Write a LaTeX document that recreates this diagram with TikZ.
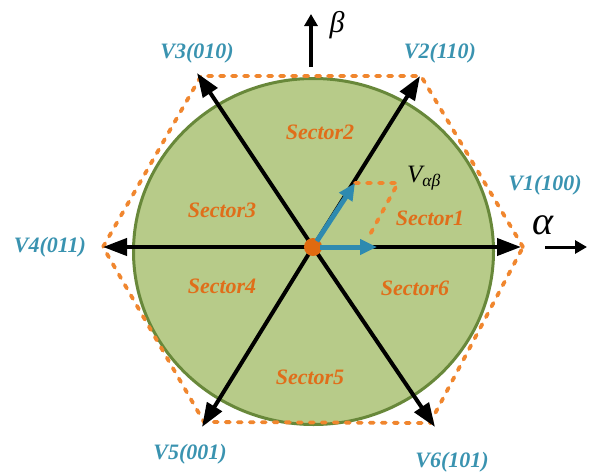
\documentclass[tikz,border=0pt]{standalone}
\usepackage{fontspec}
\setmainfont{Liberation Serif}
\usepackage{tikz}
\usetikzlibrary{arrows.meta, positioning, calc}
\definecolor{mygreen}{RGB}{183,203,137}
\definecolor{mydkgreen}{RGB}{104,136,58}
\definecolor{myorange}{RGB}{240,134,46}
\definecolor{mysector}{RGB}{224,110,26}
\definecolor{mylabel}{RGB}{58,147,176}
\definecolor{myblue}{RGB}{46,138,176}
\definecolor{mydot}{RGB}{224,106,16}
\tikzset{
  vecarrow/.style={-{Triangle[length=24pt,width=17pt]}, line width=4pt, color=black},
  axisarrow/.style={-{Triangle[length=12pt,width=13pt]}, line width=4pt, color=black},
  bluearrow/.style={-{Triangle[length=17pt,width=15pt]}, line width=5pt, color=myblue},
  hexline/.style={dash pattern=on 4pt off 8pt, line cap=round, line width=3.8pt, color=myorange},
  vlabel/.style={font=\fontsize{22}{24}\selectfont\bfseries\itshape, text=mylabel, inner sep=0pt},
  sectorlabel/.style={font=\fontsize{22}{24}\selectfont\bfseries\itshape, text=mysector, inner sep=0pt}
}
\begin{document}
\begin{tikzpicture}[x=1pt, y=-1pt]
  \useasboundingbox (0,0) rectangle (591,474);
  % Center and hexagon corners
  \coordinate (O) at (313,247);
  \coordinate (h1) at (523,247);
  \coordinate (h2) at (421,76);
  \coordinate (h3) at (201,76);
  \coordinate (h4) at (103,247);
  \coordinate (h5) at (204,422);
  \coordinate (h6) at (430,423);
  % Arrow tips
  \coordinate (t1) at (521,247);
  \coordinate (t2) at (420,76);
  \coordinate (t3) at (197,73);
  \coordinate (t4) at (103,247);
  \coordinate (t5) at (202,427);
  \coordinate (t6) at (435,427);

  % Circle
  \fill[color=mygreen, draw=mydkgreen, line width=3pt] (313.5,251.5) ellipse (180pt and 173pt);

  % Hexagon
  \draw[hexline] (h1) -- (h2) -- (h3) -- (h4) -- (h5) -- (h6) -- cycle;

  % Voltage vectors
  \foreach \i in {1,...,6}
    \draw[vecarrow] (O) -- (t\i);

  % Sector names
  \node[sectorlabel] (s1) at (430,218) {Sector1};
  \node[sectorlabel] (s2) at (320,132) {Sector2};
  \node[sectorlabel] (s3) at (222,210) {Sector3};
  \node[sectorlabel] (s4) at (222,286) {Sector4};
  \node[sectorlabel] (s5) at (310,377) {Sector5};
  \node[sectorlabel] (s6) at (415,288) {Sector6};

  % Vector names
  \node[vlabel] (n1) at (545,185) {V1(100)};
  \node[vlabel] (n2) at (440,53) {V2(110)};
  \node[vlabel] (n3) at (197,53) {V3(010)};
  \node[vlabel] (n4) at (50,247) {V4(011)};
  \node[vlabel] (n5) at (190,454) {V5(001)};
  \node[vlabel] (n6) at (452,462) {V6(101)};

  % Reference vector and its parts
  \coordinate (va) at (355,183);
  \coordinate (vb) at (377,247);
  \coordinate (vs) at (398,183);
  \coordinate (vd) at (367,240);
  \draw[hexline] (va) -- (vs) -- (vd);
  \fill[color=mydot] (O) circle (9pt);
  \draw[bluearrow, shorten <=7pt] (O) -- (va);
  \draw[bluearrow, shorten <=7pt] (O) -- (vb);
  \node[inner sep=0pt, font=\fontsize{25}{28}\selectfont\itshape] (vab) at (424,178) {V\textsubscript{αβ}};

  % Axes
  \coordinate (b0) at (311,67);
  \coordinate (b1) at (311,14);
  \draw[axisarrow] (b0) -- (b1);
  \node[inner sep=0pt, font=\fontsize{30}{32}\selectfont\itshape] (beta) at (337,25) {β};
  \coordinate (a0) at (545,247);
  \coordinate (a1) at (587,247);
  \draw[axisarrow, line width=3pt] (a0) -- (a1);
  \node[inner sep=0pt, font=\fontsize{40}{42}\selectfont\itshape] (alpha) at (543,225) {α};
\end{tikzpicture}
\end{document}
